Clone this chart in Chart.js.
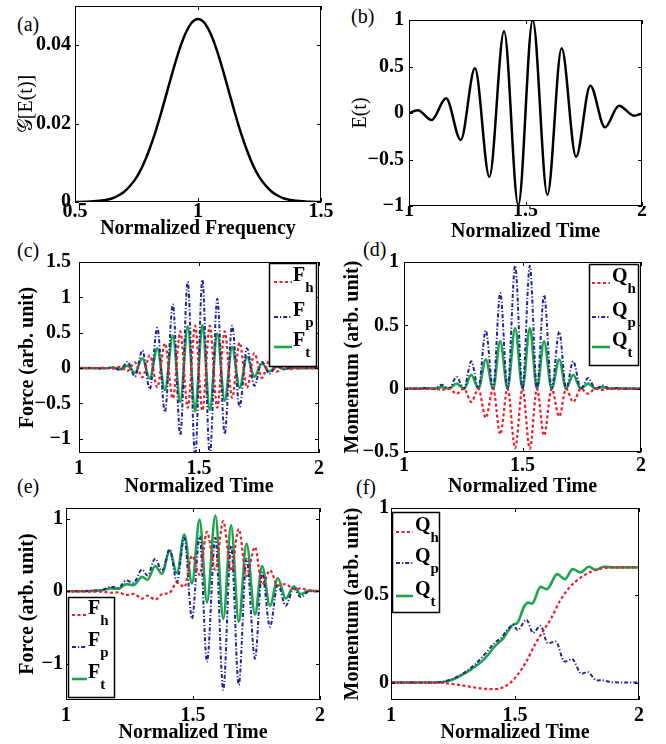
<!DOCTYPE html>
<html>
<head>
<meta charset="utf-8">
<script src="https://cdn.jsdelivr.net/npm/chart.js@4.4.1/dist/chart.umd.min.js"></script>
<style>
  html, body { margin: 0; padding: 0; background: #fff; }
  body { width: 666px; height: 744px; position: relative; overflow: hidden; }
  canvas { position: absolute; }
  .tag { position: absolute; font: 20px 'Liberation Serif', serif; line-height: 20px; color: #000; }
</style>
</head>
<body>
<div class="tag" style="left:17px;top:14px">(a)</div>
<div class="tag" style="left:351px;top:6px">(b)</div>
<div class="tag" style="left:17px;top:240px">(c)</div>
<div class="tag" style="left:363px;top:239px">(d)</div>
<div class="tag" style="left:17px;top:476px">(e)</div>
<div class="tag" style="left:356px;top:477px">(f)</div>
<canvas id="chartA"></canvas>
<canvas id="chartB"></canvas>
<canvas id="chartC"></canvas>
<canvas id="chartD"></canvas>
<canvas id="chartE"></canvas>
<canvas id="chartF"></canvas>
<script>
// (a) spectre
const aFreq = [0.5, 0.55, 0.6, 0.625, 0.65, 0.675, 0.7, 0.725, 0.75, 0.775, 0.8, 0.825, 0.85, 0.875, 0.9, 0.925, 0.95, 0.975, 1.0,
  1.025, 1.05, 1.075, 1.1, 1.125, 1.15, 1.175, 1.2, 1.225, 1.25, 1.275, 1.3, 1.325, 1.35, 1.375, 1.4, 1.45, 1.5];
const aG = [0, 0.00007, 0.0003, 0.0005, 0.0009, 0.0016, 0.0026, 0.0042, 0.0063, 0.0092, 0.0130, 0.0175, 0.0227, 0.0283, 0.0339, 0.0390, 0.0431, 0.0458, 0.0467,
  0.0458, 0.0431, 0.0390, 0.0339, 0.0283, 0.0227, 0.0175, 0.0130, 0.0092, 0.0063, 0.0042, 0.0026, 0.0016, 0.0009, 0.0005, 0.0003, 0.00007, 0];

// (b) E(t), extremos
const bTime = [1.0, 1.037, 1.097, 1.159, 1.222, 1.283, 1.345, 1.408, 1.469, 1.531, 1.594, 1.655, 1.717, 1.778, 1.841, 1.901, 1.966, 2.0];
const bE = [0.0, 0.03, -0.075, 0.158, -0.29, 0.48, -0.685, 0.878, -0.99, 1.0, -0.88, 0.695, -0.47, 0.294, -0.154, 0.079, -0.03, -0.005];

// (c) forças
const cTime = [1.0, 1.05, 1.109, 1.140, 1.171, 1.202, 1.233, 1.264, 1.295, 1.326, 1.358, 1.391, 1.422, 1.453, 1.484, 1.514,
  1.545, 1.576, 1.607, 1.638, 1.669, 1.700, 1.731, 1.762, 1.793, 1.824, 1.855, 1.885, 1.916, 1.95, 2.0];
const cFh = [0, 0, 0.003, -0.006, 0.018, -0.04, 0.08, -0.13, 0.18, -0.27, 0.35, -0.43, 0.52, -0.56, 0.6, -0.6,
  0.6, -0.56, 0.52, -0.42, 0.36, -0.28, 0.21, -0.14, 0.1, -0.05, 0.03, -0.015, 0.005, 0, 0];
const cFp = [0, 0, -0.005, 0.012, -0.03, 0.09, -0.12, 0.25, -0.30, 0.57, -0.62, 0.90, -0.95, 1.22, -1.25, 1.25,
  -1.24, 0.98, -0.93, 0.6, -0.55, 0.28, -0.25, 0.09, -0.08, 0.03, -0.02, 0.006, -0.003, 0, 0];
const cFt = [0, 0, -0.003, 0.008, -0.015, 0.035, -0.065, 0.14, -0.15, 0.28, -0.31, 0.46, -0.48, 0.59, -0.61, 0.61,
  -0.59, 0.49, -0.46, 0.30, -0.28, 0.16, -0.12, 0.065, -0.045, 0.02, -0.012, 0.005, -0.002, 0, 0];

// (d) momento
const dTime = [1.0, 1.06, 1.097, 1.128, 1.159, 1.19, 1.222, 1.253, 1.284, 1.314, 1.345, 1.376, 1.406, 1.437, 1.469, 1.5,
  1.531, 1.561, 1.591, 1.623, 1.655, 1.684, 1.714, 1.746, 1.777, 1.808, 1.838, 1.87, 1.901, 1.93, 2.0];
const dQh = [0, 0, -0.002, 0, -0.01, 0, -0.04, 0, -0.105, 0, -0.23, 0, -0.36, 0, -0.47, 0,
  -0.475, 0, -0.37, 0, -0.22, 0, -0.105, 0, -0.04, 0, -0.01, 0, -0.003, 0, 0];
const dQp = [0, 0, 0.005, 0, 0.03, 0, 0.092, 0, 0.216, 0, 0.46, 0, 0.755, 0, 0.97, 0,
  0.97, 0, 0.74, 0, 0.45, 0, 0.216, 0, 0.084, 0, 0.025, 0, 0.006, 0, 0];
const dQt = [0, 0, 0.003, 0, 0.012, 0, 0.04, 0, 0.11, 0, 0.23, 0, 0.374, 0, 0.479, 0,
  0.479, 0, 0.374, 0, 0.23, 0, 0.11, 0, 0.04, 0, 0.012, 0, 0.003, 0, 0];

// (e) forças
const eTime = [1.0, 1.05, 1.1, 1.144, 1.175, 1.206, 1.237, 1.266, 1.299, 1.321, 1.351, 1.378, 1.408, 1.437, 1.466, 1.496,
  1.526, 1.555, 1.588, 1.619, 1.650, 1.680, 1.711, 1.744, 1.772, 1.803, 1.834, 1.865, 1.897, 1.924, 1.957, 2.0];
const eFh = [0, 0, -0.005, -0.005, -0.02, -0.015, -0.05, -0.035, -0.1, -0.06, -0.115, -0.04, -0.02, 0.12, 0.06, 0.49,
  0.23, 0.82, 0.3, 0.97, 0.28, 0.86, 0.21, 0.61, 0.09, 0.29, 0.08, 0.1, 0.03, 0.04, 0.01, 0];
const eFp = [0, 0, 0.01, 0.02, 0.06, 0.05, 0.15, 0.12, 0.3, 0.22, 0.45, 0.28, 0.58, 0.13, 0.74, -0.38,
  0.76, -0.97, 0.74, -1.36, 0.63, -1.29, 0.45, -0.93, 0.26, -0.49, 0.1, -0.2, 0.04, -0.08, 0.0, 0];
const eFt = [0, 0, 0.005, 0.015, 0.04, 0.035, 0.1, 0.085, 0.2, 0.16, 0.35, 0.24, 0.56, 0.25, 0.785, 0.11,
  0.99, -0.15, 1.046, -0.38, 0.91, -0.42, 0.66, -0.32, 0.35, -0.2, 0.18, -0.1, 0.07, -0.04, 0.01, 0];

// (f) momento
const fTimeH = [1.0, 1.178, 1.245, 1.299, 1.34, 1.38, 1.42, 1.447, 1.48, 1.51, 1.546, 1.58, 1.613, 1.647, 1.681, 1.714, 1.748, 1.782, 1.815, 1.849, 1.917, 2.0];
const fQh = [0, 0, -0.008, -0.019, -0.029, -0.036, -0.038, -0.03, -0.004, 0.044, 0.121, 0.217, 0.294, 0.371, 0.467, 0.535, 0.583, 0.617, 0.64, 0.654, 0.66, 0.66];
const fTimeP = [1.0, 1.178, 1.245, 1.299, 1.34, 1.38, 1.42, 1.447, 1.467, 1.494, 1.51, 1.546, 1.573, 1.603, 1.632, 1.664, 1.700, 1.73, 1.768, 1.792, 1.83, 1.852, 1.89, 2.0];
const fQp = [0, 0, 0.02, 0.06, 0.105, 0.165, 0.23, 0.26, 0.3, 0.33, 0.3, 0.36, 0.285, 0.325, 0.225, 0.235, 0.12, 0.135, 0.05, 0.06, 0.012, 0.013, 0.002, 0];
const fTimeT = [1.0, 1.178, 1.245, 1.299, 1.34, 1.38, 1.42, 1.454, 1.474, 1.494, 1.51, 1.535, 1.553, 1.569, 1.603, 1.629, 1.670, 1.701, 1.733, 1.764, 1.798, 1.825, 1.859, 1.9, 2.0];
const fQt = [0, 0, 0.015, 0.054, 0.092, 0.14, 0.21, 0.256, 0.30, 0.333, 0.342, 0.43, 0.458, 0.452, 0.548, 0.535, 0.621, 0.592, 0.65, 0.631, 0.663, 0.646, 0.663, 0.66, 0.66];

// Ticks
const aXTicks = [0.5, 1, 1.5];
const aYTicks = [0, 0.02, 0.04];
const timeTicks = [1, 1.5, 2];
const bYTicks = [-1, -0.5, 0, 0.5, 1];
const cYTicks = [-1, -0.5, 0, 0.5, 1, 1.5];
const dYTicks = [-0.5, 0, 0.5, 1];
const eYTicks = [-1, 0, 1];
const fYTicks = [0, 0.5, 1];

const forceNames = [['F', 'h'], ['F', 'p'], ['F', 't']];
const momentumNames = [['Q', 'h'], ['Q', 'p'], ['Q', 't']];

const SERIF = "'Liberation Serif', 'Times New Roman', serif";
const RED = '#ee1c25';
const BLUE = '#23239b';
const GREEN = '#1ca64c';

function pts(xs, ys) {
    return xs.map((x, i) => ({ x: x, y: ys[i] }));
}

function fmt(v) {
    const s = String(Number(v.toFixed(3)));
    return s.replace('-', '\u2212');
}

function blackLine(xs, ys) {
    return { data: pts(xs, ys), borderColor: '#000', borderWidth: 2.5 };
}
function redLine(xs, ys) {
    return { data: pts(xs, ys), borderColor: RED, borderWidth: 2.2, borderDash: [3, 2.5] };
}
function blueLine(xs, ys) {
    return { data: pts(xs, ys), borderColor: BLUE, borderWidth: 2, borderDash: [4, 2, 1.2, 2] };
}
function greenLine(xs, ys) {
    return { data: pts(xs, ys), borderColor: GREEN, borderWidth: 2.6 };
}

// moldura estilo MATLAB com ticks para dentro
const framePlugin = {
    id: 'frame',
    afterDatasetsDraw(chart) {
        const { ctx, chartArea: a, scales } = chart;
        ctx.save();
        ctx.strokeStyle = '#000';
        ctx.lineWidth = 1;
        ctx.strokeRect(a.left + 0.5, a.top + 0.5, a.right - a.left - 1, a.bottom - a.top - 1);
        ctx.beginPath();
        scales.x.ticks.forEach(t => {
            const px = Math.round(scales.x.getPixelForValue(t.value)) + 0.5;
            ctx.moveTo(px, a.bottom); ctx.lineTo(px, a.bottom - 4);
            ctx.moveTo(px, a.top); ctx.lineTo(px, a.top + 4);
        });
        scales.y.ticks.forEach(t => {
            const py = Math.round(scales.y.getPixelForValue(t.value)) + 0.5;
            ctx.moveTo(a.left, py); ctx.lineTo(a.left + 4, py);
            ctx.moveTo(a.right, py); ctx.lineTo(a.right - 4, py);
        });
        ctx.stroke();
        ctx.restore();
    }
};

// legenda em caixa, com índices
const boxLegendPlugin = {
    id: 'boxLegend',
    afterDraw(chart, args, opts) {
        if (!opts || !opts.names) return;
        const { ctx, chartArea: a } = chart;
        const bx = a.left + opts.x, by = a.top + opts.y;
        ctx.save();
        ctx.fillStyle = '#fff';
        ctx.fillRect(bx, by, opts.w, opts.h);
        ctx.strokeStyle = '#000';
        ctx.lineWidth = 1.5;
        ctx.strokeRect(bx + 0.5, by + 0.5, opts.w - 1, opts.h - 1);
        chart.data.datasets.forEach((ds, i) => {
            const ly = by + opts.rows[i];
            ctx.strokeStyle = ds.borderColor;
            ctx.lineWidth = ds.borderWidth;
            ctx.setLineDash(ds.borderDash || []);
            ctx.beginPath();
            ctx.moveTo(bx + opts.l0, ly);
            ctx.lineTo(bx + opts.l1, ly);
            ctx.stroke();
            ctx.setLineDash([]);
            ctx.fillStyle = '#000';
            ctx.textBaseline = 'alphabetic';
            ctx.textAlign = 'left';
            ctx.font = 'bold 20px ' + SERIF;
            const main = opts.names[i][0];
            ctx.fillText(main, bx + opts.tx, ly - 1);
            const mw = ctx.measureText(main).width;
            ctx.font = 'bold 15px ' + SERIF;
            ctx.fillText(opts.names[i][1], bx + opts.tx + mw, ly + 10);
        });
        ctx.restore();
    }
};

function panel(p) {
    const cv = document.getElementById(p.id);
    const W = p.cr - p.cl, H = p.cb - p.ct;
    cv.width = W; cv.height = H;
    cv.style.left = p.cl + 'px';
    cv.style.top = p.ct + 'px';
    cv.style.width = W + 'px';
    cv.style.height = H + 'px';
    const yw = p.L - p.cl;
    const xh = p.cb - p.B;
    const tickFont = { family: SERIF, size: 20, weight: 'bold', lineHeight: 1 };

    return new Chart(cv, {
        type: 'line',
        data: { datasets: p.datasets },
        options: {
            responsive: false,
            animation: false,
            devicePixelRatio: 1,
            layout: { padding: { top: p.T - p.ct, right: p.cr - p.R, left: 0, bottom: 0 } },
            elements: {
                point: { radius: 0 },
                line: { cubicInterpolationMode: 'monotone', fill: false }
            },
            plugins: {
                legend: { display: false },
                tooltip: { enabled: false },
                boxLegend: p.legend || {}
            },
            scales: {
                x: {
                    type: 'linear',
                    min: p.xMin, max: p.xMax,
                    grid: { display: false, drawTicks: false },
                    border: { display: false },
                    ticks: { font: tickFont, color: '#000', padding: p.xPad, maxRotation: 0, autoSkip: false, callback: v => fmt(v) },
                    afterBuildTicks: ax => { ax.ticks = p.xTicks.map(v => ({ value: v })); },
                    afterFit: ax => { ax.height = xh; ax.paddingLeft = 0; ax.paddingRight = 0; },
                    title: { display: true, text: p.xTitle, color: '#000', padding: 0,
                             font: { family: SERIF, size: 20, weight: 'bold' } }
                },
                y: {
                    type: 'linear',
                    min: p.yMin, max: p.yMax,
                    grid: { display: false, drawTicks: false },
                    border: { display: false },
                    ticks: { font: tickFont, color: '#000', padding: p.yPad, autoSkip: false, callback: v => fmt(v) },
                    afterBuildTicks: ax => { ax.ticks = p.yTicks.map(v => ({ value: v })); },
                    afterFit: ax => { ax.width = yw; ax.paddingTop = 0; ax.paddingBottom = 0; },
                    title: { display: true, text: p.yTitle, color: '#000', padding: 0,
                             font: { family: SERIF, size: 20, weight: p.yBold ? 'bold' : 'normal' } }
                }
            }
        },
        plugins: [framePlugin, boxLegendPlugin]
    });
}

panel({
    id: 'chartA', L: 75, T: 6, R: 321, B: 202, cl: 15, ct: 0, cr: 341, cb: 241,
    xMin: 0.5, xMax: 1.5, yMin: 0, yMax: 0.05, xTicks: aXTicks, yTicks: aYTicks,
    xPad: 0, yPad: 4, xTitle: 'Normalized Frequency', yTitle: '\u{1D4A2}[E(t)]', yBold: false,
    datasets: [blackLine(aFreq, aG)]
});

panel({
    id: 'chartB', L: 409, T: 20, R: 642, B: 206, cl: 349, ct: 0, cr: 662, cb: 244,
    xMin: 1, xMax: 2, yMin: -1, yMax: 1, xTicks: timeTicks, yTicks: bYTicks,
    xPad: -5, yPad: 5, xTitle: 'Normalized Time', yTitle: 'E(t)', yBold: false,
    datasets: [blackLine(bTime, bE)]
});

panel({
    id: 'chartC', L: 79, T: 262, R: 319, B: 453, cl: 16, ct: 246, cr: 339, cb: 499,
    xMin: 1, xMax: 2, yMin: -1.2, yMax: 1.5, xTicks: timeTicks, yTicks: cYTicks,
    xPad: 6, yPad: 8, xTitle: 'Normalized Time', yTitle: 'Force (arb. unit)', yBold: true,
    datasets: [redLine(cTime, cFh), blueLine(cTime, cFp), greenLine(cTime, cFt)],
    legend: { names: forceNames, x: 190, y: 1, w: 48, h: 104, rows: [19, 54, 84], l0: 5, l1: 23, tx: 24 }
});

panel({
    id: 'chartD', L: 404, T: 262, R: 641, B: 452, cl: 341, ct: 246, cr: 661, cb: 499,
    xMin: 1, xMax: 2, yMin: -0.5, yMax: 1, xTicks: timeTicks, yTicks: dYTicks,
    xPad: 4, yPad: 5, xTitle: 'Normalized Time', yTitle: 'Momentum (arb. unit)', yBold: true,
    datasets: [redLine(dTime, dQh), blueLine(dTime, dQp), greenLine(dTime, dQt)],
    legend: { names: momentumNames, x: 185, y: 2, w: 50, h: 102, rows: [19, 53, 83], l0: 3, l1: 21, tx: 23 }
});

panel({
    id: 'chartE', L: 66, T: 508, R: 320, B: 700, cl: 16, ct: 494, cr: 340, cb: 745,
    xMin: 1, xMax: 2, yMin: -1.5, yMax: 1.15, xTicks: timeTicks, yTicks: eYTicks,
    xPad: 6, yPad: 3, xTitle: 'Normalized Time', yTitle: 'Force (arb. unit)', yBold: true,
    datasets: [redLine(eTime, eFh), blueLine(eTime, eFp), greenLine(eTime, eFt)],
    legend: { names: forceNames, x: 2, y: 89, w: 47, h: 101, rows: [18, 50, 82], l0: 4, l1: 19, tx: 20 }
});

panel({
    id: 'chartF', L: 391, T: 508, R: 639, B: 700, cl: 341, ct: 494, cr: 659, cb: 745,
    xMin: 1, xMax: 2, yMin: -0.1, yMax: 1, xTicks: timeTicks, yTicks: fYTicks,
    xPad: 6, yPad: 2, xTitle: 'Normalized Time', yTitle: 'Momentum (arb. unit)', yBold: true,
    datasets: [redLine(fTimeH, fQh), blueLine(fTimeP, fQp), greenLine(fTimeT, fQt)],
    legend: { names: momentumNames, x: 1, y: 4, w: 48, h: 101, rows: [20, 51, 84], l0: 4, l1: 21, tx: 23 }
});
</script>
</body>
</html>
